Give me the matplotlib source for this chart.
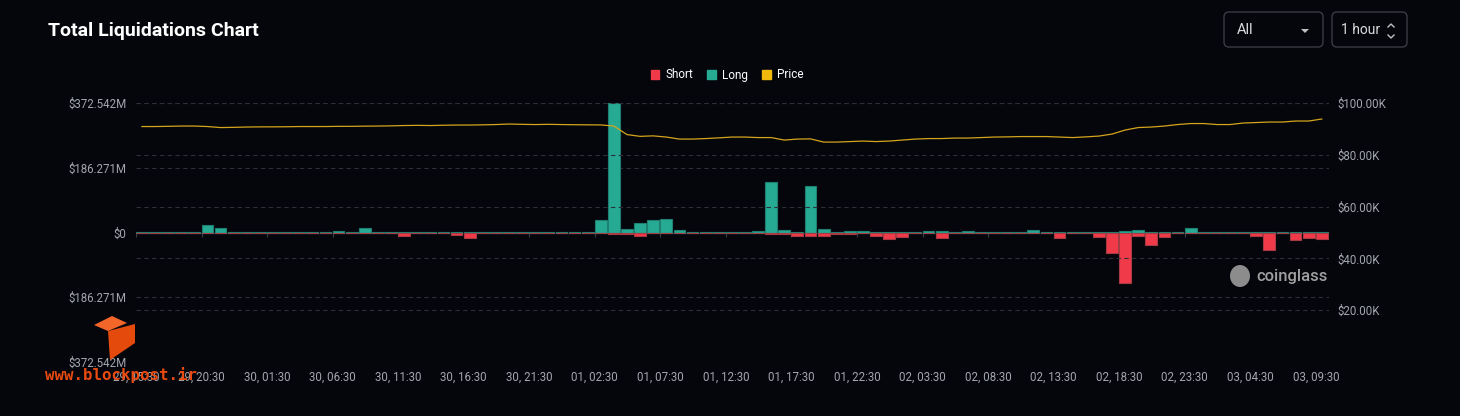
import numpy as np
import matplotlib.pyplot as plt
from matplotlib.patches import Patch, FancyBboxPatch, Polygon, Ellipse
from matplotlib.lines import Line2D
from matplotlib.transforms import IdentityTransform

plt.rcParams['font.family'] = ['Roboto', 'DejaVu Sans']

# hourly liquidations in $M (long up, short down), price in $K
long_liq = [1.0, 1.0, 2.0, 2.5, 1.5, 23, 12, 1.0, 2.0, 1.0,
            1.0, 1.0, 1.5, 1.0, 1.0, 3.0, 1.0, 13, 1.5, 1.0,
            2.0, 2.0, 1.0, 1.0, 2.0, 1.0, 2.0, 2.5, 1.0, 1.0,
            1.5, 1.0, 1.0, 2.0, 1.5, 37, 372.5, 10, 26, 36,
            38, 7, 1.0, 1.5, 1.0, 2.0, 1.0, 4, 146, 7,
            2, 135, 9, 2, 3, 3, 1, 0.5, 2, 1,
            3, 3, 1, 3, 1, 1, 1, 1, 6, 0.5,
            1, 1, 1, 1, 1, 4, 6, 1, 2, 2,
            14, 1, 1, 2, 2, 1, 1, 1, 1, 2, 1]
short_liq = [0.5, 0.5, 0.5, 2, 0.5, 2, 2, 2, 0.5, 1,
             1, 1, 2, 2, 1, 0.5, 1, 1, 1.5, 1,
             10, 2, 1, 1, 8, 17, 1, 1, 2, 1,
             1, 2, 2, 0.5, 0.5, 1, 5, 4, 9, 1,
             1, 1, 2, 1.5, 2, 1.5, 1.5, 1, 4, 4,
             11, 11, 11, 3, 3, 1, 10, 20, 13, 1,
             1, 16, 1, 2, 1, 1, 1, 1, 1, 2,
             15, 1.5, 1.5, 12, 60, 146, 10, 37, 13, 2,
             1, 2, 2, 2, 1, 10, 49, 2, 23, 17, 20]
price = [90.91, 90.91, 90.99, 91.10, 91.10, 90.91, 90.52, 90.60, 90.72, 90.79,
         90.79, 90.83, 90.91, 90.91, 90.91, 90.99, 90.99, 91.06, 91.10, 91.18,
         91.30, 91.37, 91.30, 91.41, 91.49, 91.49, 91.57, 91.68, 91.88, 91.76,
         91.68, 91.76, 91.68, 91.61, 91.57, 91.53, 91.10, 87.81, 87.12, 87.31,
         86.85, 86.07, 86.07, 86.27, 86.54, 86.85, 86.85, 86.65, 86.65, 85.69,
         86.07, 86.15, 84.91, 84.91, 85.11, 85.30, 85.11, 85.30, 85.69, 86.07,
         86.27, 86.27, 86.46, 86.46, 86.65, 86.85, 86.92, 87.04, 87.04, 87.04,
         86.85, 86.65, 86.92, 87.23, 88.01, 89.56, 90.52, 90.72, 91.10, 91.68,
         92.07, 92.07, 91.68, 91.68, 92.26, 92.46, 92.65, 92.65, 93.04, 93.04, 93.81]
x_labels = ["29, 15:30", "29, 20:30", "30, 01:30", "30, 06:30", "30, 11:30",
            "30, 16:30", "30, 21:30", "01, 02:30", "01, 07:30", "01, 12:30",
            "01, 17:30", "01, 22:30", "02, 03:30", "02, 08:30", "02, 13:30",
            "02, 18:30", "02, 23:30", "03, 04:30", "03, 09:30"]
liq_ticks = [-372.542, -186.271, 0, 186.271, 372.542]
liq_tick_labels = ["$372.542M", "$186.271M", "$0", "$186.271M", "$372.542M"]
price_ticks = [20, 40, 60, 80, 100]
price_tick_labels = ["$20.00K", "$40.00K", "$60.00K", "$80.00K", "$100.00K"]

bg = '#05060c'
red = '#f03a4a'
green = '#26aa94'
yellow = '#f0b90b'
grey = '#a3a6ad'
grid_c = '#2c2f37'

fig = plt.figure(figsize=(14.6, 4.16), dpi=100, facecolor=bg)
ax = fig.add_axes([136 / 1460, 1 - 362 / 416, 1193 / 1460, 259 / 416])
ax.set_facecolor(bg)

x = np.arange(len(long_liq))
ax.bar(x, long_liq, width=0.9, align='edge', color=green, edgecolor='#1f7f70', linewidth=0.8, zorder=3)
ax.bar(x, -np.array(short_liq), width=0.9, align='edge', color=red, edgecolor='#a83a44', linewidth=0.8, zorder=3)
ax.axhline(0, color='#3a3d45', lw=0.8, zorder=2)

ax.set_xlim(0, len(long_liq))
ax.set_ylim(-372.542, 372.542)
ax.set_yticks(liq_ticks)
ax.set_yticklabels(liq_tick_labels)
ax.set_xticks(x[::5])
ax.set_xticklabels(x_labels)
# small tick marks hanging off the zero line
px = 2 * 372.542 / 259
ax.vlines(x[::5], -4 * px, 0, color='#3a3d46', lw=0.8, zorder=2)
ax.tick_params(axis='both', length=0, colors=grey, labelsize=8.3)
ax.tick_params(axis='x', pad=6.5)
ax.tick_params(axis='y', pad=7)
ax.grid(axis='y', color=grid_c, linestyle=(0, (4, 3)), linewidth=0.8, zorder=0)
for s in ax.spines.values():
    s.set_visible(False)

ax2 = ax.twinx()
ax2.plot(x + 0.45, price, color='#d4a41c', lw=0.9, zorder=4)
ax2.set_ylim(0, 100)
ax2.set_yticks(price_ticks)
ax2.set_yticklabels(price_tick_labels)
ax2.tick_params(axis='y', length=0, colors=grey, labelsize=8.3, pad=6)
ax2.grid(axis='y', color=grid_c, linestyle=(0, (4, 3)), linewidth=0.8)
ax2.set_axisbelow(True)
for s in ax2.spines.values():
    s.set_visible(False)

# title + legend
fig.text(48 / 1460, 1 - 31 / 416, 'Total Liquidations Chart', color='white',
         fontsize=14, fontweight='bold', va='center')
fig.legend(handles=[Patch(color=red), Patch(color=green), Patch(color=yellow)],
           labels=['Short', 'Long', 'Price'], loc='center',
           bbox_to_anchor=(727 / 1460, 1 - 75 / 416), ncol=3, frameon=False,
           fontsize=8.5, labelcolor='white', handlelength=0.75, handleheight=0.75,
           handletextpad=0.5, columnspacing=1.2)

# dropdown boxes (pixel coords)
idt = IdentityTransform()
for (x0, w) in [(1224, 99), (1332, 75)]:
    fig.patches.append(FancyBboxPatch((x0, 416 - 47), w, 35, boxstyle='round,pad=0,rounding_size=5',
                                      transform=idt, fc=bg, ec='#3a3c44', lw=1))
fig.text(1237, 416 - 30, 'All', transform=idt, color='#dcdcdc', fontsize=10.5, va='center')
fig.patches.append(Polygon([[1301, 416 - 29], [1309, 416 - 29], [1305, 416 - 33]], closed=True,
                           transform=idt, fc='#c0c0c0', ec='none'))
fig.text(1341, 416 - 30, '1 hour', transform=idt, color='#dcdcdc', fontsize=10, va='center')
fig.lines.append(Line2D([1388, 1391, 1394], [416 - 27, 416 - 24, 416 - 27], transform=idt, color='#c0c0c0', lw=1))
fig.lines.append(Line2D([1388, 1391, 1394], [416 - 35, 416 - 38, 416 - 35], transform=idt, color='#c0c0c0', lw=1))

# coinglass watermark
fig.patches.append(Ellipse((1240, 416 - 276), 20, 22, transform=idt, fc='#8c8c8c', ec='none'))
fig.text(1256, 416 - 277, 'coinglass', transform=idt, color='#a0a0a0', fontsize=12,
         fontweight='medium', va='center')

# blockpost watermark
fig.patches.append(Polygon([[94, 416 - 325], [112, 416 - 316], [127, 416 - 323], [108, 416 - 331]],
                           closed=True, transform=idt, fc='#f2662a', ec='none'))
fig.patches.append(Polygon([[108, 416 - 331], [135, 416 - 324], [135, 416 - 343], [110, 416 - 360]],
                           closed=True, transform=idt, fc='#e34a0c', ec='none'))
fig.text(45, 416 - 375, 'www.blockpost.ir', transform=idt, color='#e84a10', fontsize=11.3,
         fontweight='bold', family='DejaVu Sans Mono', va='center')

plt.savefig('out.png', dpi=100, facecolor=bg)
